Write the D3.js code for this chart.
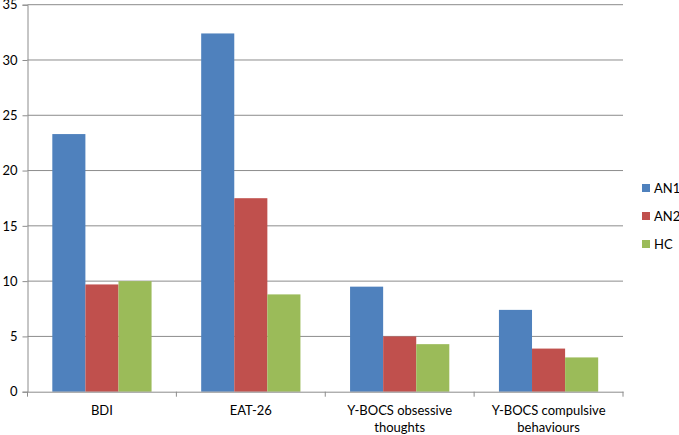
<!DOCTYPE html>
<html>
<head>
<meta charset="utf-8">
<script src="https://cdn.jsdelivr.net/npm/d3@7"></script>
<style>
  body { margin: 0; background: #fff; }
  svg text { font-family: Lato, "Open Sans", sans-serif; fill: #000; }
</style>
</head>
<body>
<div id="chart"></div>
<script>
// datos
var categorias = ["BDI", "EAT-26", "Y-BOCS obsessive thoughts", "Y-BOCS compulsive behaviours"];
var etiquetas = [["BDI"], ["EAT-26"], ["Y-BOCS obsessive", "thoughts"], ["Y-BOCS compulsive", "behaviours"]];
var series = ["AN1", "AN2", "HC"];
var AN1 = [23.3, 32.4, 9.5, 7.4];
var AN2 = [9.7, 17.5, 5.0, 3.9];
var HC  = [10.0, 8.8, 4.3, 3.1];
var ticksY = [0, 5, 10, 15, 20, 25, 30, 35];
var colores = ["#4F81BD", "#C0504D", "#9BBB59"];

var valores = {AN1: AN1, AN2: AN2, HC: HC};

var width = 679, height = 435;
var margin = {top: 4.7, right: 56, bottom: 43.3, left: 27.5};

var svg = d3.select("#chart").append("svg")
    .attr("width", width)
    .attr("height", height);

//Escalas
var escalaX = d3.scaleBand()
    .domain(categorias)
    .range([margin.left, width - margin.right]);

var gap = escalaX.bandwidth() * 1.5 / 4.5; // gap 150%
var escalaSerie = d3.scaleBand()
    .domain(series)
    .range([gap / 2, escalaX.bandwidth() - gap / 2]);

var escalaY = d3.scaleLinear()
    .domain([0, 35])
    .range([height - margin.bottom, margin.top]);

//Rejilla
svg.append("g")
    .selectAll("line")
    .data(ticksY.filter(d => d > 0)).enter()
    .append("line")
    .attr("x1", margin.left)
    .attr("x2", width - margin.right)
    .attr("y1", d => escalaY(d))
    .attr("y2", d => escalaY(d))
    .attr("stroke", "#8c8c8c")
    .attr("stroke-width", 1);

//Barras
var grupos = svg.append("g")
    .selectAll("g")
    .data(series).enter()
    .append("g")
    .attr("fill", (d, i) => colores[i]);

grupos.selectAll("rect")
    .data(s => categorias.map((c, i) => ({cat: c, serie: s, v: valores[s][i]})))
    .enter()
    .append("rect")
    .attr("x", d => escalaX(d.cat) + escalaSerie(d.serie))
    .attr("y", d => escalaY(d.v))
    .attr("width", escalaSerie.bandwidth())
    .attr("height", d => escalaY(0) - escalaY(d.v));

//Eje Y
var ejeY = d3.axisLeft(escalaY)
    .tickValues(ticksY)
    .tickSize(5)
    .tickPadding(5);

var gY = svg.append("g")
    .attr("transform", "translate(" + margin.left + ",0)")
    .call(ejeY);
gY.select(".domain").attr("stroke", "#8c8c8c");
gY.selectAll(".tick line").attr("stroke", "#8c8c8c");
gY.selectAll(".tick text").attr("font-size", "13px");

//Eje X
var ejeX = d3.axisBottom(escalaX).tickSize(0).tickFormat("");
var gX = svg.append("g")
    .attr("transform", "translate(0," + escalaY(0) + ")")
    .call(ejeX);
gX.select(".domain").attr("stroke", "#8c8c8c");

// marcas entre categorias
svg.append("g")
    .selectAll("line")
    .data(categorias.map(c => escalaX(c)).concat([escalaX.range()[1]]))
    .enter()
    .append("line")
    .attr("x1", d => d).attr("x2", d => d)
    .attr("y1", escalaY(0)).attr("y2", escalaY(0) + 5)
    .attr("stroke", "#8c8c8c");

// etiquetas de categoria
var etq = svg.append("g")
    .selectAll("text")
    .data(categorias).enter()
    .append("text")
    .attr("text-anchor", "middle")
    .attr("font-size", "13px")
    .attr("x", d => escalaX(d) + escalaX.bandwidth() / 2)
    .attr("y", escalaY(0) + 23);

etq.selectAll("tspan")
    .data((d, i) => etiquetas[i])
    .enter()
    .append("tspan")
    .attr("x", function() { return d3.select(this.parentNode).attr("x"); })
    .attr("dy", (d, i) => i === 0 ? 0 : 17)
    .text(d => d);

//Leyenda
var leyenda = svg.append("g")
    .selectAll("g")
    .data(series).enter()
    .append("g")
    .attr("transform", (d, i) => "translate(642," + (188 + i * 28) + ")");

leyenda.append("rect")
    .attr("x", 0).attr("y", -4)
    .attr("width", 8).attr("height", 8)
    .attr("fill", (d, i) => colores[i]);

leyenda.append("text")
    .attr("x", 12)
    .attr("y", 0)
    .attr("dy", "0.35em")
    .attr("font-size", "13px")
    .text(d => d);
</script>
</body>
</html>
